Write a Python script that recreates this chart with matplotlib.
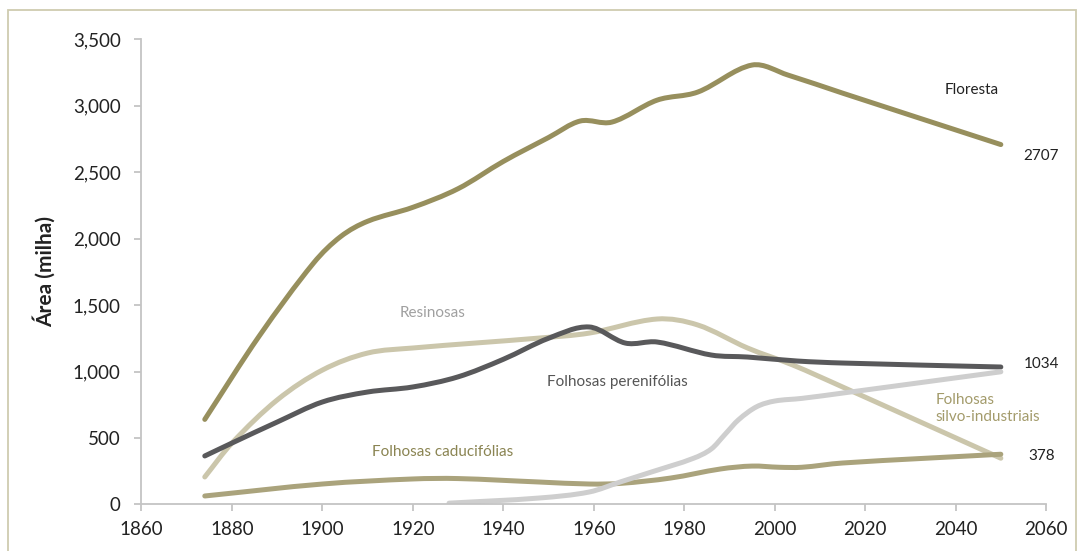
import matplotlib
matplotlib.use("Agg")
import matplotlib.pyplot as plt
from matplotlib.path import Path
from matplotlib.patches import PathPatch, Rectangle
from matplotlib.ticker import FuncFormatter
import numpy as np

plt.rcParams['font.family'] = ['Lato', 'DejaVu Sans']

# ---- data ----
floresta_years = [1874, 1886, 1898, 1904, 1910, 1920, 1930, 1940, 1950, 1957, 1964, 1974, 1983, 1995, 2003, 2015, 2050]
floresta_vals = [640, 1265, 1814, 2014, 2130, 2235, 2375, 2580, 2760, 2884, 2876, 3041, 3102, 3305, 3229, 3094, 2707]

resinosas_years = [1874, 1880, 1890, 1900, 1910, 1920, 1948, 1959, 1974, 1983, 1994, 2004, 2015, 2050]
resinosas_vals = [207, 462, 786, 1011, 1139, 1177, 1252, 1289, 1395, 1350, 1177, 1049, 884, 348]

perenifolias_years = [1874, 1880, 1890, 1900, 1910, 1920, 1930, 1940, 1950, 1959, 1967, 1974, 1986, 1994, 2005, 2015, 2050]
perenifolias_vals = [365, 462, 620, 771, 846, 884, 960, 1092, 1250, 1335, 1214, 1222, 1124, 1109, 1079, 1064, 1034]

caducifolias_years = [1874, 1900, 1920, 1930, 1948, 1959, 1966, 1977, 1988, 1995, 2001, 2006, 2015, 2050]
caducifolias_vals = [64, 154, 192, 195, 169, 154, 159, 199, 267, 289, 280, 280, 312, 378]

silvo_years = [1928, 1948, 1959, 1966, 1973, 1982, 1986, 1989, 1992, 1996, 2000, 2006, 2015, 2050]
silvo_vals = [10, 49, 94, 171, 247, 347, 418, 527, 637, 735, 778, 798, 838, 998]

x_ticks = [1860, 1880, 1900, 1920, 1940, 1960, 1980, 2000, 2020, 2040, 2060]
y_ticks = [0, 500, 1000, 1500, 2000, 2500, 3000, 3500]

# ---- styling ----
C_FLORESTA = '#978f5d'
C_RESINOSAS = '#cbc6ab'
C_PERENI = '#59595b'
C_CADUCI = '#aaa37c'
C_SILVO = '#cecece'
AXIS_GRAY = '#c4c4c4'


def smooth_path(xs, ys):
    """Cubic Hermite curve through the data points, drawn as Bezier segments."""
    x = np.asarray(xs, float)
    y = np.asarray(ys, float)
    n = len(x)
    m = np.zeros(n)
    for i in range(n):
        if i == 0:
            m[i] = (y[1] - y[0]) / (x[1] - x[0])
        elif i == n - 1:
            m[i] = (y[-1] - y[-2]) / (x[-1] - x[-2])
        else:
            m[i] = (y[i + 1] - y[i - 1]) / (x[i + 1] - x[i - 1])
    verts = [(x[0], y[0])]
    codes = [Path.MOVETO]
    for i in range(n - 1):
        h = x[i + 1] - x[i]
        verts += [(x[i] + h / 3, y[i] + m[i] * h / 3),
                  (x[i + 1] - h / 3, y[i + 1] - m[i + 1] * h / 3),
                  (x[i + 1], y[i + 1])]
        codes += [Path.CURVE4] * 3
    return Path(verts, codes)


fig = plt.figure(figsize=(10.84, 5.51), dpi=100)
ax = fig.add_axes([0.1305, 0.0844, 0.8345, 0.8446])

series = [
    (resinosas_years, resinosas_vals, C_RESINOSAS),
    (perenifolias_years, perenifolias_vals, C_PERENI),
    (caducifolias_years, caducifolias_vals, C_CADUCI),
    (silvo_years, silvo_vals, C_SILVO),
    (floresta_years, floresta_vals, C_FLORESTA),
]
for xs, ys, col in series:
    patch = PathPatch(smooth_path(xs, ys), facecolor='none', edgecolor=col,
                      lw=3.6, capstyle='round', joinstyle='round')
    ax.add_patch(patch)

ax.set_xlim(1860, 2060)
ax.set_ylim(0, 3500)
ax.set_xticks(x_ticks)
ax.set_yticks(y_ticks)
ax.yaxis.set_major_formatter(FuncFormatter(lambda v, p: f"{int(v):,}"))

for s in ['top', 'right']:
    ax.spines[s].set_visible(False)
for s in ['left', 'bottom']:
    ax.spines[s].set_color(AXIS_GRAY)
    ax.spines[s].set_linewidth(1.3)
ax.tick_params(axis='both', colors=AXIS_GRAY, length=5, width=1.3, direction='out',
               labelcolor='#222222', labelsize=13.5)
ax.tick_params(axis='x', pad=7)
ax.tick_params(axis='y', pad=10)

ax.set_ylabel('Área (milha)', fontsize=15, fontweight='bold', color='#222222', labelpad=12)

# annotations
ax.text(2043.5, 3117, 'Floresta', color='#222222', fontsize=11, ha='center', va='center')
ax.text(2055, 2620, '2707', color='#222222', fontsize=11, ha='left', va='center')
ax.text(2055, 1057, '1034', color='#222222', fontsize=11, ha='left', va='center')
ax.text(2056, 365, '378', color='#222222', fontsize=11, ha='left', va='center')
ax.text(1917, 1440, 'Resinosas', color='#a0a0a0', fontsize=11, ha='left', va='center')
ax.text(1949.6, 921, 'Folhosas perenifólias', color='#555555', fontsize=11, ha='left', va='center')
ax.text(1911, 395, 'Folhosas caducifólias', color='#8a8452', fontsize=11, ha='left', va='center')
ax.text(2035.5, 722, 'Folhosas\nsilvo-industriais', color='#a39b6b', fontsize=11, ha='left',
        va='center', linespacing=1.3)

# outer frame
fig.patches.append(Rectangle((8 / 1084, -0.01), (1076 - 8) / 1084, (551 - 10) / 551 + 0.01,
                             transform=fig.transFigure, fill=False, edgecolor='#cfcbb0', lw=1.3))

fig.savefig('out.png', dpi=100)
